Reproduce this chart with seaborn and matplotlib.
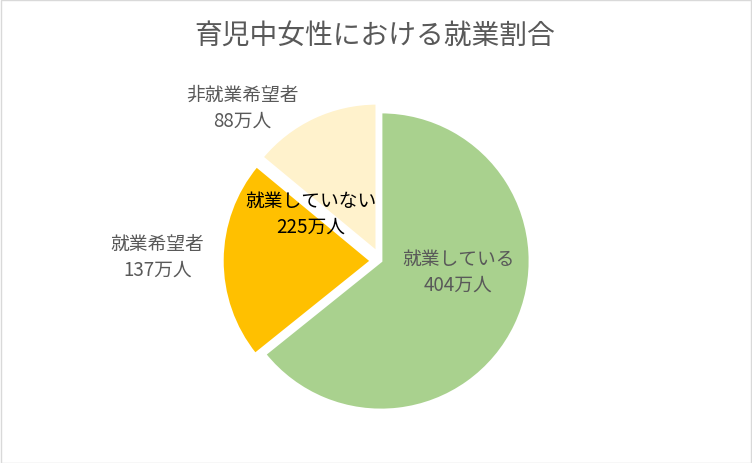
import matplotlib
matplotlib.use("Agg")
import matplotlib.pyplot as plt
import seaborn as sns
import numpy as np
from matplotlib.patches import Rectangle

title = "育児中女性における就業割合"
categories = ["就業している", "就業希望者", "非就業希望者"]
values = [404, 137, 88]
colors = ["#A9D18E", "#FFC000", "#FFF2CC"]
combined_label = "就業していない"
combined_value = 225

sns.set_theme(style="white")
plt.rcParams['font.family'] = ['Noto Sans CJK JP', 'DejaVu Sans']

W, H = 752, 464
fig = plt.figure(figsize=(W / 100, H / 100), dpi=100)
fig.patches.append(Rectangle((0.5 / W, 0.5 / H), 1 - 1.5 / W, 1 - 1.5 / H,
                             transform=fig.transFigure, fill=False,
                             edgecolor="#D9D9D9", linewidth=1))

cx, cy, r = 381, 464 - 262, 149
lim = 1.4
side = 2 * lim * r
ax = fig.add_axes([(cx - side / 2) / W, (cy - side / 2) / H, side / W, side / H])
ax.pie(values, colors=colors, startangle=90, counterclock=False,
       explode=[0, 0.065, 0.065], radius=1,
       wedgeprops=dict(edgecolor="white", linewidth=2))
ax.set_xlim(-lim, lim)
ax.set_ylim(-lim, lim)
ax.set_aspect("equal")
ax.axis("off")

txt = "#595959"
fs = 13.5
ax.text(0.52, -0.07, f"{categories[0]}\n{values[0]}万人", ha="center", va="center",
        fontsize=fs, color=txt, linespacing=1.3)
ax.text(-1.5, 0.03, f"{categories[1]}\n{values[1]}万人", ha="center", va="center",
        fontsize=fs, color=txt, linespacing=1.3)
ax.text(-0.93, 1.03, f"{categories[2]}\n{values[2]}万人", ha="center", va="center",
        fontsize=fs, color=txt, linespacing=1.3)
ax.text(-0.47, 0.32, f"{combined_label}\n{combined_value}万人", ha="center", va="center",
        fontsize=fs, color="black", linespacing=1.3)

fig.text(375 / W, 1 - 36 / H, title, ha="center", va="center", fontsize=20, color=txt)

fig.savefig("out.png", dpi=100)
